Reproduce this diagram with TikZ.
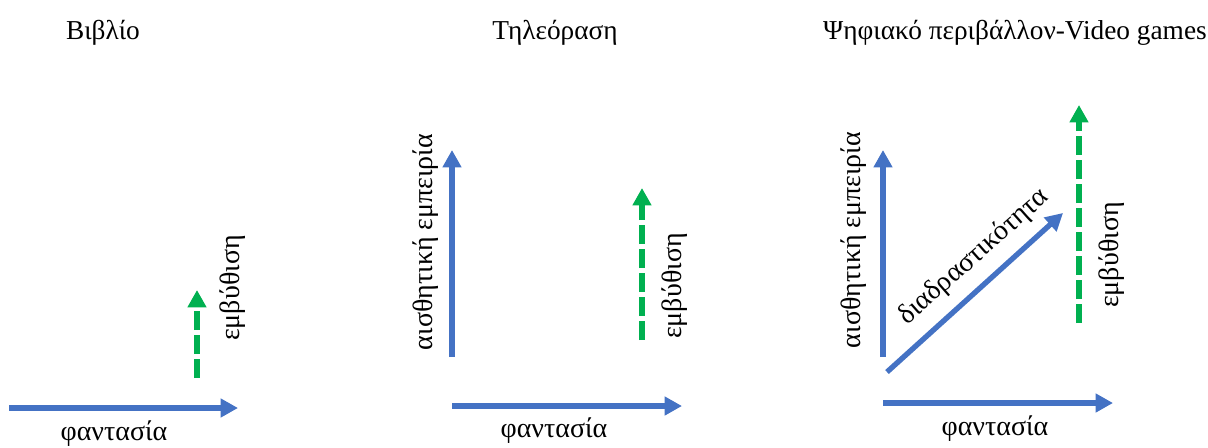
\documentclass[tikz,border=0pt]{standalone}
\usepackage{fontspec}
\setmainfont{Liberation Serif}
\usetikzlibrary{arrows.meta,positioning}
\definecolor{axisblue}{HTML}{4472C4}
\definecolor{immgreen}{HTML}{00B050}

\begin{document}
\begin{tikzpicture}[>=Latex,x=0.75pt,y=-0.75pt]
  \tikzstyle{axis}=[draw=axisblue,line width=4pt,-{Triangle[length=13pt,width=13.5pt]}]
  \tikzstyle{immersion}=[draw=immgreen,line width=4pt,dash pattern=on 14pt off 4pt,-{Triangle[length=13pt,width=13.5pt]}]
  \tikzstyle{title}=[font=\fontsize{20.5}{24}\selectfont,anchor=base,inner sep=0pt]
  \tikzstyle{lbl}=[font=\fontsize{21}{25}\selectfont,inner sep=0pt]
  \useasboundingbox (0,0) rectangle (1208,447);

  % book
  \node[title] (book) at (103,39) {Βιβλίο};
  \coordinate (bk-h0) at (9,408);
  \coordinate (bk-h1) at (238,408);
  \coordinate (bk-i0) at (197,378);
  \coordinate (bk-i1) at (197,290);
  \draw[axis] (bk-h0) -- (bk-h1);
  \draw[immersion] (bk-i0) -- (bk-i1);
  \node[lbl,anchor=base] (bk-fant) at (114,440) {φαντασία};
  \node[lbl,rotate=90] (bk-imm) at (233,288) {εμβύθιση};

  % television
  \node[title] (tv) at (555,39) {Τηλεόραση};
  \coordinate (tv-h0) at (452,406);
  \coordinate (tv-h1) at (682,406);
  \coordinate (tv-v0) at (452,357);
  \coordinate (tv-v1) at (452,150);
  \coordinate (tv-i0) at (642,340);
  \coordinate (tv-i1) at (642,188);
  \draw[axis] (tv-h0) -- (tv-h1);
  \draw[axis] (tv-v0) -- (tv-v1);
  \draw[immersion] (tv-i0) -- (tv-i1);
  \node[lbl,anchor=base] (tv-fant) at (554,437) {φαντασία};
  \node[lbl,rotate=90] (tv-aisth) at (426,242) {αισθητική εμπειρία};
  \node[lbl,rotate=90] (tv-imm) at (675,286) {εμβύθιση};

  % video games
  \node[title] (games) at (1015,39) {Ψηφιακό περιβάλλον-Video games};
  \coordinate (vg-h0) at (883,403);
  \coordinate (vg-h1) at (1113,403);
  \coordinate (vg-v0) at (883,357);
  \coordinate (vg-v1) at (883,150);
  \coordinate (vg-d0) at (887,372);
  \coordinate (vg-d1) at (1063,213);
  \coordinate (vg-i0) at (1079,323);
  \coordinate (vg-i1) at (1079,105);
  \draw[axis] (vg-h0) -- (vg-h1);
  \draw[axis] (vg-v0) -- (vg-v1);
  \draw[axis] (vg-d0) -- (vg-d1);
  \draw[immersion] (vg-i0) -- (vg-i1);
  \node[lbl,anchor=base] (vg-fant) at (995,435) {φαντασία};
  \node[lbl,rotate=90] (vg-aisth) at (854,240) {αισθητική εμπειρία};
  \node[lbl,rotate=41.5] (vg-inter) at (974,257) {διαδραστικότητα};
  \node[lbl,rotate=90] (vg-imm) at (1112,255) {εμβύθιση};
\end{tikzpicture}
\end{document}
